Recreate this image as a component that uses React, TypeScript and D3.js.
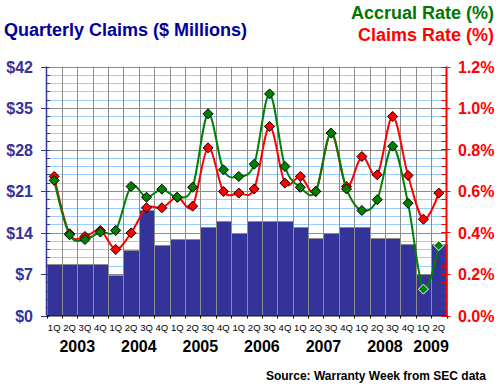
import React, { useRef, useEffect } from 'react';
import * as d3 from 'd3';

const years = ['2003', '2004', '2005', '2006', '2007', '2008', '2009'];
const quarterLabels = ['1Q', '2Q', '3Q', '4Q'];
const quarterCount = 26; // 2003 1Q .. 2009 2Q

// quarterly claims, $ millions
const claims = [
  8.7, 8.7, 8.7, 8.7,
  6.9, 11, 17.8, 11.9,
  12.9, 12.9, 15, 16,
  14, 16, 16, 16,
  15, 13, 14, 15,
  15, 13, 13, 12,
  7, 12,
];

// accrual rate, %
const accrualRate = [
  0.651, 0.389, 0.366, 0.402,
  0.41, 0.622, 0.57, 0.609,
  0.57, 0.618, 0.972, 0.702,
  0.67, 0.729, 1.068, 0.718,
  0.618, 0.598, 0.879, 0.61,
  0.506, 0.558, 0.816, 0.541,
  0.127, 0.337,
];

// claims rate, %
const claimsRate = [
  0.67, 0.394, 0.381, 0.41,
  0.318, 0.398, 0.519, 0.519,
  0.57, 0.527, 0.808, 0.598,
  0.59, 0.61, 0.911, 0.638,
  0.67, 0.598, 0.879, 0.622,
  0.766, 0.678, 0.959, 0.675,
  0.464, 0.59,
];

const leftTicks = [0, 7, 14, 21, 28, 35, 42];
const rightTicks = [0, 0.2, 0.4, 0.6, 0.8, 1.0, 1.2];

const FONT = 'Liberation Sans, Arial, sans-serif';

const App = () => {
  const svgRef = useRef(null);

  useEffect(() => {
    const width = 500;
    const height = 387;
    const left = 46.5;
    const right = 446.5;
    const top = 66.5;
    const bottom = 315.5;

    const svg = d3.select(svgRef.current)
      .attr('width', width)
      .attr('height', height);
    svg.selectAll('*').remove();

    const idx = d3.range(quarterCount);
    const x = d3.scaleBand().domain(idx).range([left, right]).padding(0);
    const yL = d3.scaleLinear().domain([0, 42]).range([bottom, top]);
    const yR = d3.scaleLinear().domain([0, 1.2]).range([bottom, top]);
    const cx = i => x(i) + x.bandwidth() / 2;

    // minor grid
    const minor = d3.range(0, 42.001, 1.4);
    svg.append('g').selectAll('line').data(minor).join('line')
      .attr('x1', left).attr('x2', right)
      .attr('y1', d => Math.round(yL(d)) + 0.5).attr('y2', d => Math.round(yL(d)) + 0.5)
      .attr('stroke', '#99ccff');

    // major grid
    svg.append('g').selectAll('line').data(leftTicks).join('line')
      .attr('x1', left).attr('x2', right)
      .attr('y1', d => Math.round(yL(d)) + 0.5).attr('y2', d => Math.round(yL(d)) + 0.5)
      .attr('stroke', '#8c8c8c');

    svg.append('g').selectAll('line').data(d3.range(1, quarterCount)).join('line')
      .attr('x1', d => Math.round(x(d)) + 0.5).attr('x2', d => Math.round(x(d)) + 0.5)
      .attr('y1', top).attr('y2', bottom)
      .attr('stroke', '#8c8c8c');

    // bars
    svg.append('g').selectAll('rect').data(claims).join('rect')
      .attr('x', (d, i) => Math.round(x(i)) + 0.5)
      .attr('width', (d, i) => Math.round(x(i + 1) ?? right) - Math.round(x(i)))
      .attr('y', d => Math.round(yL(d)) + 0.5)
      .attr('height', d => Math.round(bottom) - Math.round(yL(d)))
      .attr('fill', '#333399')
      .attr('stroke', '#8c8c8c');

    const diamond = 'M0,-5L5,0L0,5L-5,0Z';
    const series = [
      { values: claimsRate, color: '#ff0000' },
      { values: accrualRate, color: '#008000' },
    ];
    const line = d3.line()
      .x((d, i) => cx(i))
      .y(d => yR(d))
      .curve(d3.curveCardinal);

    series.forEach(s => {
      svg.append('path')
        .datum(s.values)
        .attr('d', line)
        .attr('fill', 'none')
        .attr('stroke', s.color)
        .attr('stroke-width', 2);
      svg.append('g').selectAll('path').data(s.values).join('path')
        .attr('d', diamond)
        .attr('transform', (d, i) => `translate(${cx(i)},${yR(d)})`)
        .attr('fill', s.color)
        // marker outline shows light where it sits on a bar
        .attr('stroke', (d, i) => (yR(d) > yL(claims[i]) ? '#ffffff' : '#000000'))
        .attr('stroke-width', 1);
    });

    // left axis
    const gl = svg.append('g');
    gl.append('line')
      .attr('x1', left).attr('x2', left).attr('y1', top).attr('y2', bottom)
      .attr('stroke', '#333399').attr('stroke-width', 1.5);
    gl.selectAll('.minor').data(minor).join('line')
      .attr('x1', left).attr('x2', left + 3.5)
      .attr('y1', d => Math.round(yL(d)) + 0.5).attr('y2', d => Math.round(yL(d)) + 0.5)
      .attr('stroke', '#333399');
    gl.selectAll('.major').data(leftTicks).join('line')
      .attr('x1', left - 5.5).attr('x2', left)
      .attr('y1', d => Math.round(yL(d)) + 0.5).attr('y2', d => Math.round(yL(d)) + 0.5)
      .attr('stroke', '#333399');
    gl.selectAll('text').data(leftTicks).join('text')
      .attr('x', 33).attr('y', d => yL(d) + 6)
      .attr('text-anchor', 'end')
      .attr('font-family', FONT).attr('font-weight', 'bold').attr('font-size', 16)
      .attr('fill', '#333399')
      .text(d => `$${d}`);

    // right axis
    const gr = svg.append('g');
    const minorR = d3.range(0, 1.2001, 0.04);
    gr.selectAll('.minor').data(minorR).join('line')
      .attr('x1', right - 5).attr('x2', right)
      .attr('y1', d => Math.round(yR(d)) + 0.5).attr('y2', d => Math.round(yR(d)) + 0.5)
      .attr('stroke', '#ff0000');
    gr.selectAll('.major').data(rightTicks).join('line')
      .attr('x1', right - 5).attr('x2', right + 4)
      .attr('y1', d => Math.round(yR(d)) + 0.5).attr('y2', d => Math.round(yR(d)) + 0.5)
      .attr('stroke', '#ff0000');
    gr.append('line')
      .attr('x1', right).attr('x2', right).attr('y1', top).attr('y2', bottom)
      .attr('stroke', '#ff0000').attr('stroke-width', 2);
    gr.selectAll('text').data(rightTicks).join('text')
      .attr('x', 458).attr('y', d => yR(d) + 6)
      .attr('font-family', FONT).attr('font-weight', 'bold').attr('font-size', 16)
      .attr('fill', '#ff0000')
      .text(d => `${d.toFixed(1)}%`);

    // x axis
    const gx = svg.append('g');
    gx.append('line')
      .attr('x1', left).attr('x2', right).attr('y1', bottom).attr('y2', bottom)
      .attr('stroke', '#222244');
    gx.selectAll('.tick').data(d3.range(0, quarterCount + 1)).join('line')
      .attr('x1', d => Math.round(d === quarterCount ? right : x(d)) + 0.5)
      .attr('x2', d => Math.round(d === quarterCount ? right : x(d)) + 0.5)
      .attr('y1', bottom).attr('y2', bottom + 3)
      .attr('stroke', '#000000');
    gx.selectAll('.q').data(idx).join('text')
      .attr('x', d => cx(d)).attr('y', 331)
      .attr('text-anchor', 'middle')
      .attr('font-family', FONT).attr('font-size', 9.5)
      .attr('fill', '#000000')
      .text(d => quarterLabels[d % 4]);
    gx.selectAll('.y').data(years).join('text')
      .attr('x', (d, i) => {
        const first = i * 4;
        const last = Math.min(first + 3, quarterCount - 1);
        return (x(first) + x(last) + x.bandwidth()) / 2;
      })
      .attr('y', 352)
      .attr('text-anchor', 'middle')
      .attr('font-family', FONT).attr('font-weight', 'bold').attr('font-size', 16)
      .attr('fill', '#000000')
      .text(d => d);

    // titles
    svg.append('text')
      .attr('x', 4).attr('y', 36)
      .attr('font-family', FONT).attr('font-weight', 'bold').attr('font-size', 18)
      .attr('fill', '#000099')
      .text('Quarterly Claims ($ Millions)');
    svg.append('text')
      .attr('x', 494).attr('y', 19)
      .attr('text-anchor', 'end')
      .attr('font-family', FONT).attr('font-weight', 'bold').attr('font-size', 18)
      .attr('fill', '#007700')
      .text('Accrual Rate (%)');
    svg.append('text')
      .attr('x', 494).attr('y', 41)
      .attr('text-anchor', 'end')
      .attr('font-family', FONT).attr('font-weight', 'bold').attr('font-size', 18)
      .attr('fill', '#ff0000')
      .text('Claims Rate (%)');
    svg.append('text')
      .attr('x', 486).attr('y', 380)
      .attr('text-anchor', 'end')
      .attr('font-family', FONT).attr('font-weight', 'bold').attr('font-size', 12)
      .attr('fill', '#000000')
      .text('Source: Warranty Week from SEC data');
  }, []);

  return (
    <svg
      ref={svgRef}
      style={{ position: 'absolute', left: 0, top: 0, background: '#ffffff' }}
    />
  );
};

export default App;
